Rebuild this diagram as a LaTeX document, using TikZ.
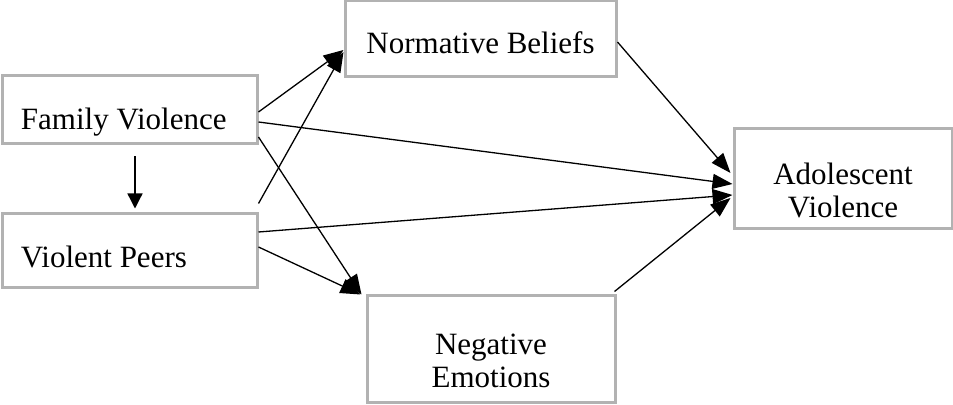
\documentclass[tikz,border=0pt]{standalone}
\usepackage{fontspec}
\setmainfont{Liberation Serif}
\usepackage{tikz}
\usetikzlibrary{arrows.meta}
\definecolor{boxgray}{RGB}{178, 178, 178}

\begin{document}
\begin{tikzpicture}[x=0.5pt, y=-0.5pt,
    varbox/.style={draw=boxgray, line width=1.5pt, inner sep=0pt},
    vartext/.style={font=\fontsize{15.5pt}{16.5pt}\selectfont, inner sep=0pt, align=center},
    effect/.style={line width=0.65pt, -{Triangle[length=10pt, width=7.5pt]}}]
    \useasboundingbox (0,0) rectangle (953,405);
    \node[varbox, minimum width=127.5pt, minimum height=34pt] (fv) at (129.5,110) {};
    \node[varbox, minimum width=127.5pt, minimum height=37pt] (vp) at (129.5,251) {};
    \node[varbox, minimum width=135.5pt, minimum height=38pt] (nb) at (480.5,39) {};
    \node[varbox, minimum width=124pt, minimum height=53.5pt] (ne) at (491,349.5) {};
    \node[varbox, minimum width=109pt, minimum height=50pt] (av) at (843,179) {};
    \node[vartext, anchor=base west] (fvtext) at ([xshift=10pt, yshift=-10pt]fv.west) {Family Violence};
    \node[vartext, anchor=base west] (vptext) at ([xshift=10pt, yshift=-8.5pt]vp.west) {Violent Peers};
    \node[vartext, anchor=base] (nbtext) at ([yshift=-7.5pt]nb.center) {Normative Beliefs};
    \node[vartext] (netext) at ([yshift=-5.75pt]ne.center) {Negative\\Emotions};
    \node[vartext] (avtext) at ([yshift=-5.75pt]av.center) {Adolescent\\Violence};
    \draw[effect, -{Triangle[length=7.5pt, width=7.5pt]}] ([xshift=2.75pt, yshift=-5.5pt]fv.south) -- ([xshift=2.75pt, yshift=2pt]vp.north);
    \draw[effect] ([yshift=-1pt]fv.east) -- ([yshift=-5.5pt]nb.west);
    \draw[effect] ([yshift=4.5pt]vp.north east) -- ([yshift=-6.5pt]nb.west);
    \draw[effect] ([yshift=-6pt]fv.east) -- ([yshift=-2.5pt]av.west);
    \draw[effect] ([yshift=-13.5pt]fv.east) -- ([xshift=-2pt]ne.north west);
    \draw[effect] ([yshift=9.5pt]vp.east) -- ([yshift=-8pt]av.west);
    \draw[effect] ([yshift=2pt]vp.east) -- ([xshift=-2.5pt]ne.north west);
    \draw[effect] ([yshift=-1.5pt]nb.east) -- ([xshift=-1pt, yshift=3pt]av.west);
    \draw[effect] ([xshift=-1pt, yshift=1.5pt]ne.north east) -- ([xshift=-1pt, yshift=-9.5pt]av.west);
  \end{tikzpicture}
\end{document}
